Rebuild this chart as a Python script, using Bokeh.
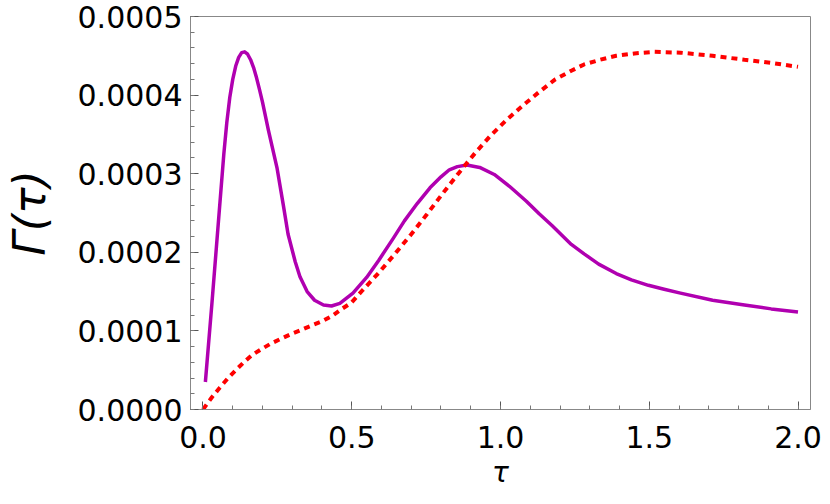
from bokeh.plotting import figure
from bokeh.models import SingleIntervalTicker, NumeralTickFormatter, Range1d, Title
from bokeh.embed import file_html
from bokeh.resources import INLINE

# --- data (tau, Gamma(tau)) ---
tau_solid = [0.008, 0.03, 0.05, 0.07, 0.08, 0.09, 0.10, 0.11, 0.12, 0.13,
             0.14, 0.15, 0.16, 0.17, 0.18, 0.19, 0.20, 0.22, 0.249, 0.27,
             0.286, 0.31, 0.326, 0.35, 0.375, 0.405, 0.432, 0.46, 0.504, 0.55,
             0.591, 0.64, 0.677, 0.72, 0.763, 0.80, 0.828, 0.855, 0.887, 0.93,
             0.979, 1.03, 1.087, 1.13, 1.173, 1.238, 1.281, 1.33, 1.389, 1.44,
             1.497, 1.55, 1.605, 1.713, 1.82, 1.91, 2.0]
gamma_solid = [0.35e-4, 1.35e-4, 2.30e-4, 3.25e-4, 3.65e-4, 3.97e-4, 4.20e-4, 4.37e-4, 4.48e-4, 4.54e-4,
               4.55e-4, 4.52e-4, 4.45e-4, 4.35e-4, 4.22e-4, 4.07e-4, 3.91e-4, 3.55e-4, 3.07e-4, 2.60e-4,
               2.23e-4, 1.88e-4, 1.69e-4, 1.50e-4, 1.39e-4, 1.33e-4, 1.317e-4, 1.35e-4, 1.48e-4, 1.68e-4,
               1.90e-4, 2.18e-4, 2.40e-4, 2.62e-4, 2.82e-4, 2.96e-4, 3.05e-4, 3.09e-4, 3.11e-4, 3.08e-4,
               2.99e-4, 2.84e-4, 2.65e-4, 2.49e-4, 2.34e-4, 2.10e-4, 1.98e-4, 1.85e-4, 1.73e-4, 1.65e-4,
               1.58e-4, 1.53e-4, 1.48e-4, 1.39e-4, 1.33e-4, 1.28e-4, 1.24e-4]

tau_dotted = [0.0, 0.03, 0.057, 0.083, 0.11, 0.137, 0.164, 0.197, 0.229, 0.262,
              0.296, 0.332, 0.366, 0.402, 0.434, 0.467, 0.499, 0.537, 0.591, 0.645,
              0.70, 0.752, 0.806, 0.86, 0.914, 0.968, 1.022, 1.076, 1.13, 1.184,
              1.238, 1.281, 1.335, 1.389, 1.45, 1.518, 1.605, 1.713, 1.82, 1.91, 2.0]
gamma_dotted = [0.0, 0.156e-4, 0.28e-4, 0.395e-4, 0.50e-4, 0.60e-4, 0.69e-4, 0.77e-4, 0.84e-4, 0.90e-4,
                0.96e-4, 1.015e-4, 1.07e-4, 1.125e-4, 1.19e-4, 1.28e-4, 1.36e-4, 1.52e-4, 1.74e-4, 1.98e-4,
                2.23e-4, 2.48e-4, 2.75e-4, 3.01e-4, 3.26e-4, 3.49e-4, 3.69e-4, 3.87e-4, 4.04e-4, 4.20e-4,
                4.31e-4, 4.39e-4, 4.45e-4, 4.50e-4, 4.53e-4, 4.55e-4, 4.54e-4, 4.50e-4, 4.45e-4, 4.41e-4, 4.36e-4]

x_label = "τ"
y_label = "Γ(τ)"

p = figure(width=822, height=496, output_backend="svg", toolbar_location=None,
           x_range=Range1d(-0.042, 2.042), y_range=Range1d(0.0, 0.0005),
           min_border_left=166, min_border_right=12, min_border_top=16, min_border_bottom=87)

p.grid.visible = False
p.outline_line_color = "#888888"
p.outline_line_width = 1
p.background_fill_color = "white"
p.border_fill_color = "white"

p.line(tau_solid, gamma_solid, line_color="#B000B0", line_width=3.5, line_join="round")
p.line(tau_dotted, gamma_dotted, line_color="#FF0000", line_width=4,
       line_dash="6 5", line_cap="butt")

for ax in (p.xaxis[0], p.yaxis[0]):
    ax.axis_line_color = "#888888"
    ax.major_tick_line_color = "#555555"
    ax.minor_tick_line_color = "#777777"
    ax.major_tick_in = 8
    ax.major_tick_out = 0
    ax.minor_tick_in = 4
    ax.minor_tick_out = 0
    ax.major_label_text_font = "DejaVu Sans"
    ax.major_label_text_font_size = "30px"
    ax.major_label_text_color = "black"

p.xaxis.ticker = SingleIntervalTicker(interval=0.5, num_minor_ticks=5)
p.yaxis.ticker = SingleIntervalTicker(interval=0.0001, num_minor_ticks=5)
p.xaxis.formatter = NumeralTickFormatter(format="0.0")
p.yaxis.formatter = NumeralTickFormatter(format="0.0000")
p.xaxis.major_label_standoff = 16

p.yaxis.major_label_standoff = 8
p.yaxis.axis_label = y_label
p.yaxis.axis_label_text_font = "DejaVu Sans"
p.yaxis.axis_label_text_font_style = "italic"
p.yaxis.axis_label_text_color = "black"
p.yaxis.axis_label_text_font_size = "44px"
p.yaxis.axis_label_standoff = 20

# x-axis title in the panel below the tick labels
p.add_layout(Title(text=x_label, align="center", vertical_align="bottom",
                   text_font="DejaVu Sans", text_font_style="italic",
                   text_font_size="28px", text_color="black", standoff=6), "below")

open("out.html", "w").write(file_html(p, INLINE))
